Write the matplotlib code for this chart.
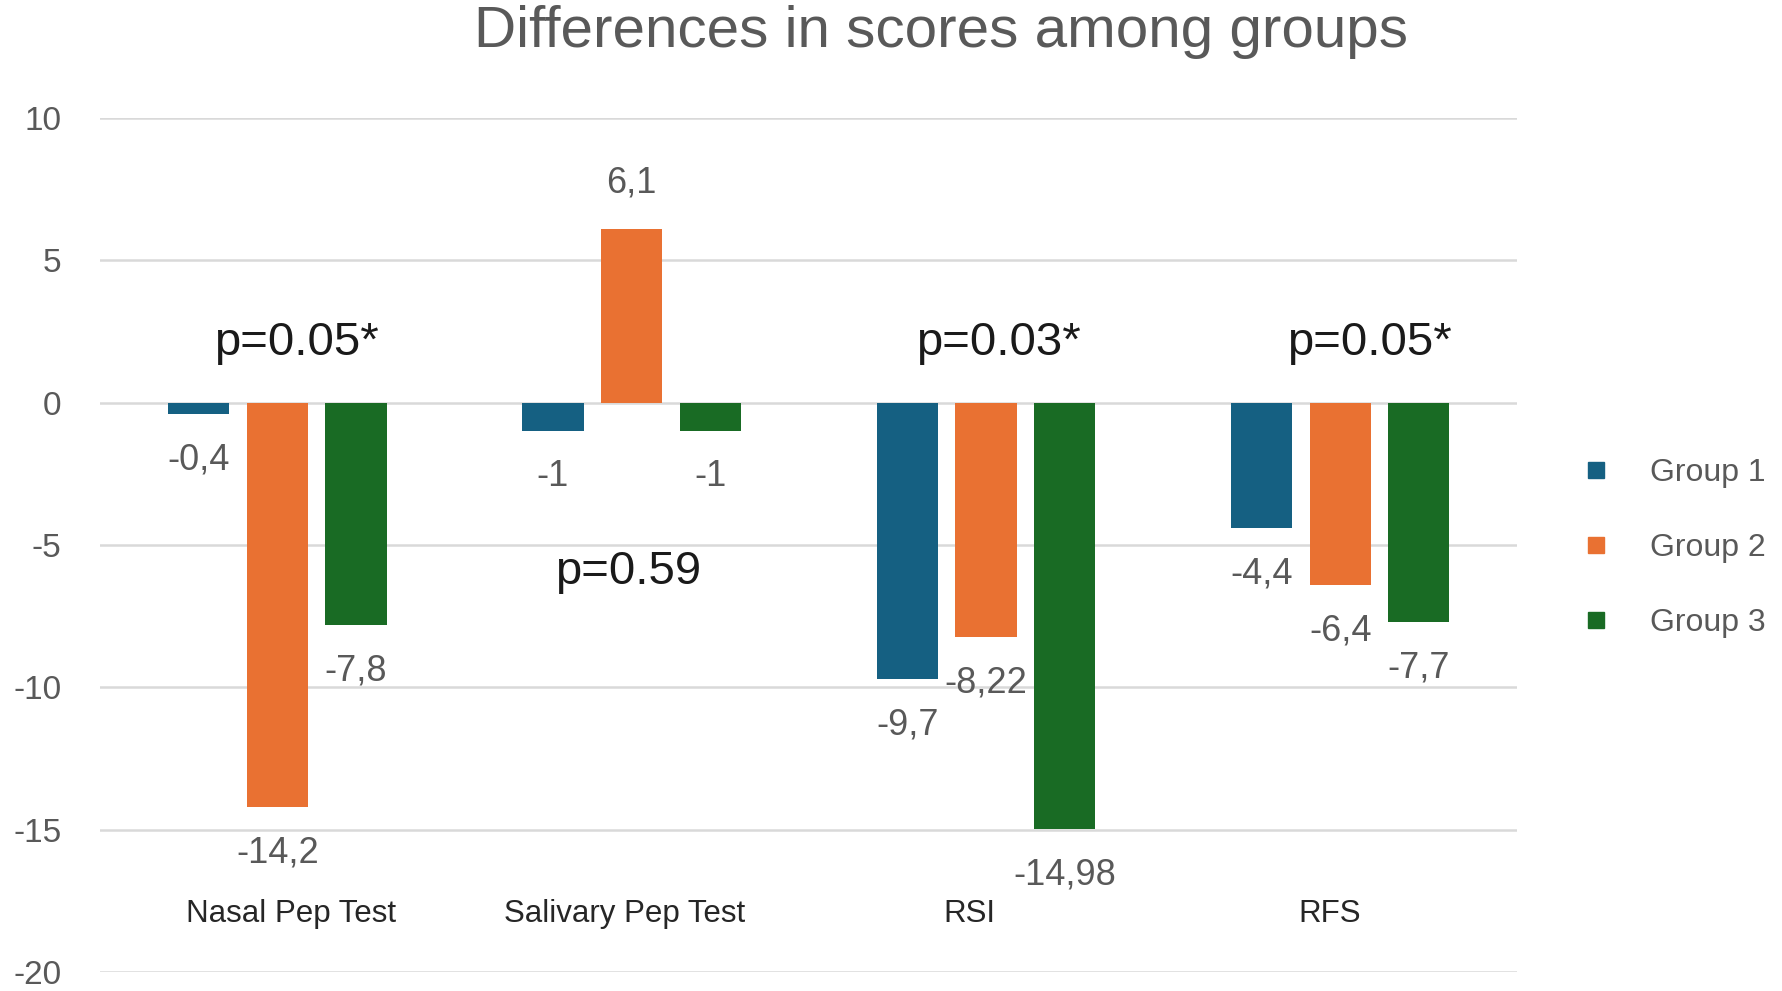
import matplotlib
matplotlib.use('Agg')
import matplotlib.pyplot as plt
import numpy as np
from matplotlib.lines import Line2D

plt.rcParams['font.family'] = ['Liberation Sans', 'DejaVu Sans']
plt.rcParams['axes.unicode_minus'] = False

categories = ['Nasal Pep Test', 'Salivary Pep Test', 'RSI', 'RFS']
group_names = ['Group 1', 'Group 2', 'Group 3']
group1 = [-0.4, -1, -9.7, -4.4]
group2 = [-14.2, 6.1, -8.22, -6.4]
group3 = [-7.8, -1, -14.98, -7.7]
p_values = ['p=0.05*', 'p=0.59', 'p=0.03*', 'p=0.05*']

colors = ['#156082', '#E97132', '#196B24']
text_gray = '#595959'
grid_gray = '#D9D9D9'

# layout of the p-value notes (offset from category centre, y in data units)
p_pos = [(0.055, 2.1), (-0.01, -5.95), (0.036, 2.1), (0.083, 2.1)]
# small horizontal shifts of the category names, as in the original
cat_dx = [0.039, -0.019, -0.048, -0.029]


def fmt(v):
    return f'{v:g}'.replace('.', ',')


fig = plt.figure(figsize=(17.83, 9.91), dpi=100)
ax = fig.add_axes([0.0562, 0.019, 0.7948, 0.862])

x = np.arange(len(categories))
step = 0.222
width = 0.173
series = [group1, group2, group3]
for i, vals in enumerate(series):
    xs = x + (i - 1) * step
    bars = ax.bar(xs, vals, width, color=colors[i], label=group_names[i], zorder=3)
    for b, v in zip(bars, vals):
        off = 33 if v > 0 else -33
        ax.annotate(fmt(v), (b.get_x() + b.get_width() / 2, v),
                    xytext=(0, off), textcoords='offset points',
                    ha='center', va='center', fontsize=26, color=text_gray)

ax.set_xlim(-0.5, 3.5)
ax.set_ylim(-20, 10)
ax.set_yticks(np.arange(-20, 11, 5))
ax.yaxis.grid(True, color=grid_gray, linewidth=1.8, zorder=0)
ax.set_xticks([])
for s in ax.spines.values():
    s.set_visible(False)
ax.tick_params(axis='y', length=0, pad=28, labelsize=24, labelcolor=text_gray)
for lab in ax.get_yticklabels():
    lab.set_horizontalalignment('right')

for i, name in enumerate(categories):
    ax.text(i + cat_dx[i], -17.96, name, ha='center', va='center', fontsize=22.5,
            color='#262626')

for i, p in enumerate(p_values):
    dx, py = p_pos[i]
    ax.text(i + dx, py, p, ha='center', va='center', fontsize=34, color='#1a1a1a')

fig.text(0.528, 0.968, 'Differences in scores among groups', ha='center', va='center',
         fontsize=42, color=text_gray)

handles = [Line2D([], [], marker='s', linestyle='none', markersize=12,
                  markerfacecolor=c, markeredgecolor=c) for c in colors]
fig.legend(handles, group_names, loc='center left', bbox_to_anchor=(0.879, 0.447),
           frameon=False, fontsize=23, labelcolor=text_gray, handlelength=0.8,
           handletextpad=1.3, labelspacing=1.4, borderpad=0)

fig.savefig('out.png', dpi=100)
